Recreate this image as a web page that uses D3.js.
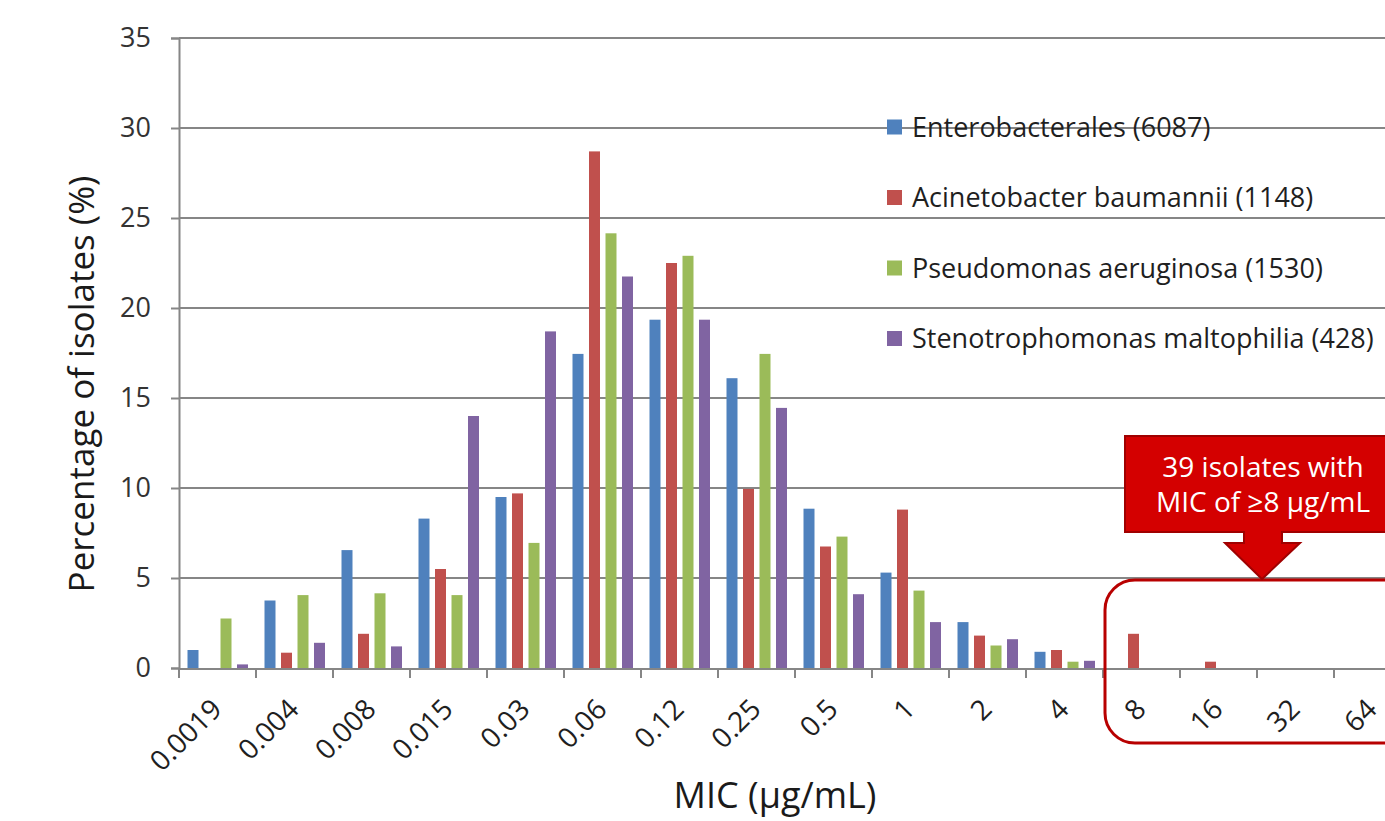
<!DOCTYPE html>
<html>
<head>
<meta charset="utf-8">
<script src="https://cdnjs.cloudflare.com/ajax/libs/d3/7.8.5/d3.min.js"></script>
<style>
    body { margin: 0; background: #fff; }
    text { font-family: "Open Sans", sans-serif; }
</style>
</head>
<body>
<div id="mic-chart"></div>
<script>
// MIC categories (µg/mL)
var micLabels = ["0.0019", "0.004", "0.008", "0.015", "0.03", "0.06", "0.12", "0.25",
    "0.5", "1", "2", "4", "8", "16", "32", "64"];

var seriesNames = ["Enterobacterales (6087)", "Acinetobacter baumannii (1148)",
    "Pseudomonas aeruginosa (1530)", "Stenotrophomonas maltophilia (428)"];

// percentage of isolates per MIC
var enterobacterales = [1.0, 3.75, 6.55, 8.3, 9.5, 17.45, 19.35, 16.1, 8.85, 5.3, 2.55, 0.9, 0, 0, 0, 0];
var baumannii = [0, 0.85, 1.9, 5.5, 9.7, 28.7, 22.5, 9.95, 6.75, 8.8, 1.8, 1.0, 1.9, 0.35, 0, 0];
var aeruginosa = [2.75, 4.05, 4.15, 4.05, 6.95, 24.15, 22.9, 17.45, 7.3, 4.3, 1.25, 0.35, 0, 0, 0, 0];
var maltophilia = [0.2, 1.4, 1.2, 14.0, 18.7, 21.75, 19.35, 14.45, 4.1, 2.55, 1.6, 0.4, 0, 0, 0, 0];

var yTicks = [0, 5, 10, 15, 20, 25, 30, 35];

var calloutLines = ["39 isolates with", "MIC of \u22658 \u00b5g/mL"];

var colors = ["#4F81BD", "#C0504D", "#9BBB59", "#8064A2"];

var allSeries = [enterobacterales, baumannii, aeruginosa, maltophilia];

var margin = {top: 38, left: 179};
var width = 16 * 77;
var height = 630;

var svg = d3.select("#mic-chart").append("svg")
    .attr("width", 1385)
    .attr("height", 821);

var g = svg.append("g")
    .attr("transform", "translate(" + margin.left + "," + margin.top + ")");

var x0 = d3.scaleBand()
    .domain(micLabels)
    .range([0, width]);

var x1 = d3.scaleBand()
    .domain(d3.range(4))
    .range([8.5, 69])
    .paddingInner(1 / 3);

var y = d3.scaleLinear()
    .domain([0, 35])
    .range([height, 0]);

// gridlines
g.selectAll(".grid")
    .data(yTicks.slice(1))
    .enter()
    .append("line")
    .attr("class", "grid")
    .attr("x1", 0)
    .attr("x2", width)
    .attr("y1", function(d) { return y(d); })
    .attr("y2", function(d) { return y(d); })
    .attr("stroke", "#868686")
    .attr("stroke-width", 2);

// bars
var groups = g.selectAll(".cat")
    .data(micLabels)
    .enter()
    .append("g")
    .attr("class", "cat")
    .attr("transform", function(d) { return "translate(" + x0(d) + ",0)"; });

groups.selectAll("rect")
    .data(function(d, i) {
        return allSeries.map(function(s, k) { return {k: k, v: s[i]}; });
    })
    .enter()
    .append("rect")
    .filter(function(d) { return d.v > 0; })
    .attr("x", function(d) { return x1(d.k); })
    .attr("width", x1.bandwidth())
    .attr("y", function(d) { return y(d.v); })
    .attr("height", function(d) { return height - y(d.v); })
    .attr("fill", function(d) { return colors[d.k]; });

// y axis
var yAxis = d3.axisLeft(y)
    .tickValues(yTicks)
    .tickSize(8)
    .tickPadding(20);

var yG = g.append("g")
    .attr("class", "axis y-axis")
    .call(yAxis);

// x axis, ticks on category boundaries
g.append("line")
    .attr("x1", 0)
    .attr("x2", width)
    .attr("y1", height + 1)
    .attr("y2", height + 1)
    .attr("stroke", "#868686")
    .attr("stroke-width", 2);

g.selectAll(".xtick")
    .data(micLabels)
    .enter()
    .append("line")
    .attr("class", "xtick")
    .attr("x1", function(d) { return x0(d); })
    .attr("x2", function(d) { return x0(d); })
    .attr("y1", height + 1)
    .attr("y2", height + 10)
    .attr("stroke", "#868686")
    .attr("stroke-width", 2);

g.selectAll(".xlabel")
    .data(micLabels)
    .enter()
    .append("text")
    .attr("class", "xlabel")
    .attr("text-anchor", "end")
    .attr("transform", function(d) {
        return "translate(" + (x0(d) + x0.bandwidth() / 2 + 6) + "," + (height + 43) + ") rotate(-45)";
    })
    .attr("font-size", "28px")
    .attr("fill", "#1f1f1f")
    .text(function(d) { return d; });

yG.select(".domain")
    .attr("stroke", "#868686")
    .attr("stroke-width", 2);
yG.selectAll(".tick line")
    .attr("stroke", "#868686")
    .attr("stroke-width", 2);
yG.selectAll(".tick text")
    .attr("font-family", "Open Sans, sans-serif")
    .attr("font-size", "27px")
    .attr("fill", "#333");

// axis titles
svg.append("text")
    .attr("transform", "translate(94,384) rotate(-90)")
    .attr("text-anchor", "middle")
    .attr("font-size", "35px")
    .attr("fill", "#1a1a1a")
    .text("Percentage of isolates (%)");

svg.append("text")
    .attr("x", 775)
    .attr("y", 808)
    .attr("text-anchor", "middle")
    .attr("font-size", "36px")
    .attr("fill", "#1a1a1a")
    .text("MIC (\u00b5g/mL)");

// legend
var legend = svg.selectAll(".legend")
    .data(seriesNames)
    .enter()
    .append("g")
    .attr("class", "legend")
    .attr("transform", function(d, i) { return "translate(887," + (127 + i * 70.5) + ")"; });

legend.append("rect")
    .attr("x", 0)
    .attr("y", -7.5)
    .attr("width", 15)
    .attr("height", 15)
    .attr("fill", function(d, i) { return colors[i]; });

legend.append("text")
    .attr("x", 25)
    .attr("y", 9.5)
    .attr("font-size", "27px")
    .attr("fill", "#1f1f1f")
    .text(function(d) { return d; });

// highlight box round MIC >= 8
svg.append("rect")
    .attr("x", 1105)
    .attr("y", 580)
    .attr("width", 330)
    .attr("height", 163)
    .attr("rx", 30)
    .attr("fill", "none")
    .attr("stroke", "#b80000")
    .attr("stroke-width", 3);

// callout with down arrow
svg.append("path")
    .attr("d", "M1125,436 H1400 V532 H1282 V543 H1300 L1262,579 L1225,543 H1244 V532 H1125 Z")
    .attr("fill", "#d40000")
    .attr("stroke", "#a00000")
    .attr("stroke-width", 2);

svg.selectAll(".callout")
    .data(calloutLines)
    .enter()
    .append("text")
    .attr("class", "callout")
    .attr("x", 1263)
    .attr("y", function(d, i) { return 477 + i * 35; })
    .attr("text-anchor", "middle")
    .attr("font-size", "28px")
    .attr("fill", "#fff")
    .text(function(d) { return d; });
</script>
</body>
</html>
